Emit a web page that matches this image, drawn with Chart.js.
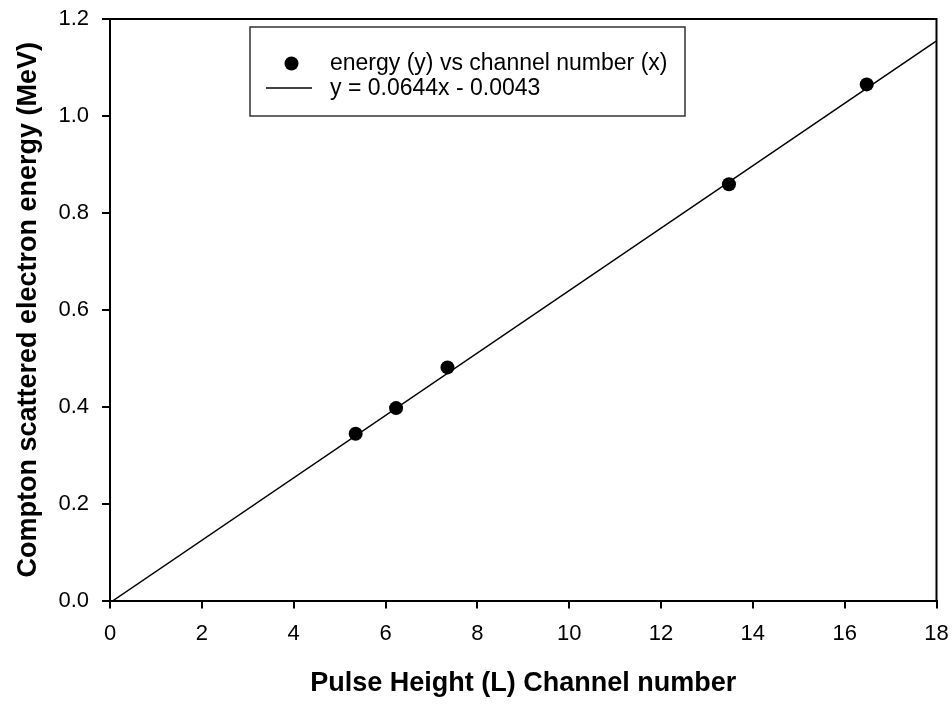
<!DOCTYPE html>
<html>
<head>
<meta charset="utf-8">
<script src="https://cdn.jsdelivr.net/npm/chart.js@4.4.1/dist/chart.umd.min.js"></script>
<style>
    html, body { margin: 0; padding: 0; background: #fff; }
    #wrap { width: 952px; height: 708px; }
</style>
</head>
<body>
<div id="wrap"><canvas id="chart" width="952" height="708"></canvas></div>
<script>
// measured points: channel number vs Compton electron energy
const channelNumber = [5.35, 6.23, 7.35, 13.48, 16.48];
const energy = [0.344, 0.397, 0.481, 0.859, 1.065];

// fitted line y = 0.0644x - 0.0043, end points as drawn
const fitX = [0.07, 18];
const fitY = [0, 1.155];

const xTicks = [0, 2, 4, 6, 8, 10, 12, 14, 16, 18];
const yTicks = [0.0, 0.2, 0.4, 0.6, 0.8, 1.0, 1.2];

const legendLabels = ["energy (y) vs channel number (x)", "y = 0.0644x - 0.0043"];

const FONT = "'Liberation Sans', Arial, sans-serif";

const frameAndLegend = {
    id: "frameAndLegend",
    afterDraw(chart) {
        const { ctx, chartArea: a } = chart;
        ctx.save();

        // top and right frame lines
        ctx.strokeStyle = "#000";
        ctx.lineWidth = 2;
        ctx.beginPath();
        ctx.moveTo(a.left, a.top);
        ctx.lineTo(a.right, a.top);
        ctx.lineTo(a.right, a.bottom);
        ctx.stroke();

        // legend box
        ctx.strokeStyle = "#333";
        ctx.lineWidth = 1.5;
        ctx.fillStyle = "#fff";
        ctx.fillRect(250, 27, 435, 89);
        ctx.strokeRect(250, 27, 435, 89);

        ctx.fillStyle = "#000";
        ctx.beginPath();
        ctx.arc(291.5, 63.5, 7, 0, 2 * Math.PI);
        ctx.fill();

        ctx.strokeStyle = "#000";
        ctx.lineWidth = 1.5;
        ctx.beginPath();
        ctx.moveTo(266, 88);
        ctx.lineTo(312, 88);
        ctx.stroke();

        ctx.font = `23px ${FONT}`;
        ctx.textAlign = "left";
        ctx.textBaseline = "middle";
        ctx.fillText(legendLabels[0], 330, 64);
        ctx.fillText(legendLabels[1], 330, 89);

        ctx.restore();
    },
};

new Chart(document.getElementById("chart"), {
    type: "scatter",
    data: {
        datasets: [
            {
                label: legendLabels[0],
                data: channelNumber.map((x, i) => ({ x, y: energy[i] })),
                pointRadius: 7,
                pointHoverRadius: 7,
                pointBackgroundColor: "#000",
                pointBorderWidth: 0,
                order: 0,
            },
            {
                label: legendLabels[1],
                type: "line",
                data: fitX.map((x, i) => ({ x, y: fitY[i] })),
                borderColor: "#000",
                borderWidth: 1.5,
                pointRadius: 0,
                fill: false,
                order: 1,
            },
        ],
    },
    options: {
        responsive: false,
        animation: false,
        layout: { padding: { left: 0, right: 15.5, top: 19, bottom: 0 } },
        plugins: {
            legend: { display: false },
            tooltip: { enabled: false },
        },
        scales: {
            x: {
                type: "linear",
                min: 0,
                max: 18,
                afterBuildTicks: (s) => { s.ticks = xTicks.map((v) => ({ value: v })); },
                afterFit: (s) => {
                    s.height = 107.5;
                    s.paddingLeft = 0;
                    s.paddingRight = 0;
                },
                border: { color: "#000", width: 2 },
                grid: { drawOnChartArea: false, drawTicks: true, tickLength: 8, color: "#000", lineWidth: 2 },
                ticks: {
                    color: "#000",
                    padding: 12,
                    maxRotation: 0,
                    font: { family: FONT, size: 22 },
                    callback: (v) => String(v),
                },
                title: {
                    display: true,
                    text: "Pulse Height (L) Channel number",
                    color: "#000",
                    font: { family: FONT, size: 27, weight: "bold" },
                    padding: { bottom: 8 },
                },
            },
            y: {
                type: "linear",
                min: 0,
                max: 1.2,
                afterBuildTicks: (s) => { s.ticks = yTicks.map((v) => ({ value: v })); },
                afterFit: (s) => {
                    s.width = 110;
                    s.paddingTop = 0;
                    s.paddingBottom = 0;
                },
                border: { color: "#000", width: 2 },
                grid: { drawOnChartArea: false, drawTicks: true, tickLength: 8, color: "#000", lineWidth: 2 },
                ticks: {
                    color: "#000",
                    padding: 13,
                    font: { family: FONT, size: 22 },
                    callback: (v) => Number(v).toFixed(1),
                },
                title: {
                    display: true,
                    text: "Compton scattered electron energy (MeV)",
                    color: "#000",
                    font: { family: FONT, size: 27, weight: "bold" },
                    padding: { top: 12 },
                },
            },
        },
    },
    plugins: [frameAndLegend],
});
</script>
</body>
</html>
